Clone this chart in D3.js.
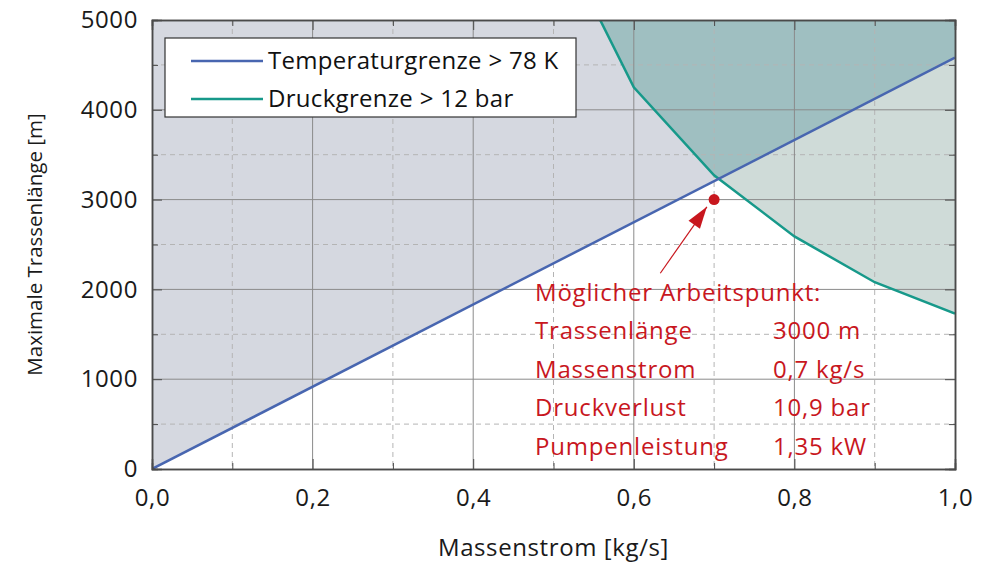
<!DOCTYPE html>
<html>
<head>
<meta charset="utf-8">
<script src="https://cdn.jsdelivr.net/npm/d3@7"></script>
<style>
  body { margin: 0; background: #fff; }
  text { font-family: "Open Sans", Lato, sans-serif; }
</style>
</head>
<body>
<div id="chart"></div>
<script>
// Temperaturgrenze (linear)
const tempX = [0, 1.0];
const tempY = [0, 4580];
// Druckgrenze
const druckX = [0.5, 0.6, 0.7, 0.8, 0.9, 1.0];
const druckY = [6040, 4250, 3270, 2590, 2080, 1730];
// Arbeitspunkt
const pointX = 0.7;
const pointY = 3000;
const xTicks = [0, 0.2, 0.4, 0.6, 0.8, 1.0];
const yTicks = [0, 1000, 2000, 3000, 4000, 5000];
const legendLabels = ["Temperaturgrenze > 78 K", "Druckgrenze > 12 bar"];
const infoLabels = ["Trassenlänge", "Massenstrom", "Druckverlust", "Pumpenleistung"];
const infoValues = ["3000 m", "0,7 kg/s", "10,9 bar", "1,35 kW"];

const width = 987, height = 562;
const margin = {left: 152, right: 32, top: 20, bottom: 93};
const innerW = width - margin.left - margin.right;
const innerH = height - margin.top - margin.bottom;

const blue = "#4866b0";
const teal = "#17998a";
const red = "#c8171e";
const fs = 24, ls = "0.6px"; // horizontal text size / spacing

const svg = d3.select("#chart").append("svg")
    .attr("width", width)
    .attr("height", height);

const x = d3.scaleLinear().domain([0, 1]).range([0, innerW]);
const y = d3.scaleLinear().domain([0, 5000]).range([innerH, 0]);

const defs = svg.append("defs");
defs.append("clipPath").attr("id", "plotclip")
    .append("rect").attr("width", innerW).attr("height", innerH);

const g = svg.append("g")
    .attr("transform", `translate(${margin.left},${margin.top})`);

const tempPts = tempX.map((d, i) => [d, tempY[i]]);
const druckPts = druckX.map((d, i) => [d, druckY[i]]);

// areas above the limit lines
const tempArea = tempPts.concat([[1, 5000], [0, 5000]]);
const druckArea = druckPts.concat([[1, 6100], [0.5, 6100]]);
const poly = d3.line().x(d => x(d[0])).y(d => y(d[1]));

defs.append("clipPath").attr("id", "tempclip")
    .append("path").attr("d", poly(tempArea) + "Z");

const areas = g.append("g").attr("clip-path", "url(#plotclip)");
areas.append("path").attr("d", poly(tempArea) + "Z").attr("fill", "#d5d8e0");
areas.append("path").attr("d", poly(druckArea) + "Z").attr("fill", "#cfdbd8");
areas.append("g").attr("clip-path", "url(#tempclip)")
    .append("path").attr("d", poly(druckArea) + "Z").attr("fill", "#9fbfc1");

// grid
const minorX = d3.range(0.1, 1, 0.2);
const minorY = d3.range(500, 5000, 1000);
g.selectAll(".gx").data(minorX).enter().append("line")
    .attr("x1", d => x(d)).attr("x2", d => x(d)).attr("y1", 0).attr("y2", innerH)
    .attr("stroke", "#b4b4b4").attr("stroke-dasharray", "5,4");
g.selectAll(".gy").data(minorY).enter().append("line")
    .attr("y1", d => y(d)).attr("y2", d => y(d)).attr("x1", 0).attr("x2", innerW)
    .attr("stroke", "#b4b4b4").attr("stroke-dasharray", "5,4");
g.selectAll(".gX").data(xTicks.slice(1, -1)).enter().append("line")
    .attr("x1", d => x(d)).attr("x2", d => x(d)).attr("y1", 0).attr("y2", innerH)
    .attr("stroke", "#8a8a8a");
g.selectAll(".gY").data(yTicks.slice(1, -1)).enter().append("line")
    .attr("y1", d => y(d)).attr("y2", d => y(d)).attr("x1", 0).attr("x2", innerW)
    .attr("stroke", "#8a8a8a");

// lines
const lines = g.append("g").attr("clip-path", "url(#plotclip)");
lines.append("path").attr("d", poly(druckPts)).attr("fill", "none")
    .attr("stroke", teal).attr("stroke-width", 2.5);
lines.append("path").attr("d", poly(tempPts)).attr("fill", "none")
    .attr("stroke", blue).attr("stroke-width", 2.5);

// axes with inner ticks on all sides
const fmt = d3.format(".1f");
g.append("g").attr("transform", `translate(0,${innerH})`)
    .call(d3.axisBottom(x).tickValues(xTicks).tickSize(-10).tickPadding(20)
        .tickFormat(d => fmt(d).replace(".", ",")));
g.append("g")
    .call(d3.axisLeft(y).tickValues(yTicks).tickSize(-10).tickPadding(14)
        .tickFormat(d3.format("d")));
g.append("g").call(d3.axisTop(x).tickValues(xTicks).tickSize(-10).tickFormat(""));
g.append("g").attr("transform", `translate(${innerW},0)`)
    .call(d3.axisRight(y).tickValues(yTicks).tickSize(-10).tickFormat(""));
g.append("g").attr("transform", `translate(0,${innerH})`)
    .call(d3.axisBottom(x).tickValues(minorX).tickSize(-6).tickFormat(""));
g.append("g").call(d3.axisTop(x).tickValues(minorX).tickSize(-6).tickFormat(""));
g.append("g").call(d3.axisLeft(y).tickValues(minorY).tickSize(-6).tickFormat(""));
g.append("g").attr("transform", `translate(${innerW},0)`)
    .call(d3.axisRight(y).tickValues(minorY).tickSize(-6).tickFormat(""));
g.selectAll(".domain").attr("stroke", "#4a4a4a").attr("stroke-width", 1.5);
g.selectAll(".tick line").attr("stroke", "#4a4a4a");
g.selectAll(".tick text").attr("font-size", fs).attr("fill", "#1a1a1a")
    .attr("letter-spacing", ls)
    .style("font-family", "'Open Sans', sans-serif");

// axis titles
svg.append("text").attr("x", margin.left + innerW / 2).attr("y", 556)
    .attr("text-anchor", "middle").attr("font-size", fs).attr("letter-spacing", ls)
    .attr("fill", "#1a1a1a").text("Massenstrom [kg/s]");
svg.append("text").attr("transform", `translate(42,${margin.top + innerH / 2}) rotate(-90)`)
    .attr("text-anchor", "middle").attr("font-size", 20.5).attr("fill", "#1a1a1a")
    .text("Maximale Trassenlänge [m]");

// legend
const leg = g.append("g").attr("transform", "translate(13,18)");
leg.append("rect").attr("width", 411).attr("height", 79)
    .attr("fill", "#fff").attr("stroke", "#333").attr("stroke-width", 1.2);
const legColors = [blue, teal];
legendLabels.forEach((lab, i) => {
  const yy = 23 + i * 38;
  leg.append("line").attr("x1", 26).attr("x2", 98).attr("y1", yy).attr("y2", yy)
      .attr("stroke", legColors[i]).attr("stroke-width", 2.5);
  leg.append("text").attr("x", 103).attr("y", yy + 8).attr("font-size", fs)
      .attr("letter-spacing", "0.3px").attr("fill", "#111").text(lab);
});

// operating point with arrow
g.append("line")
    .attr("x1", x(0.633)).attr("y1", y(2180))
    .attr("x2", x(0.691)).attr("y2", y(2920))
    .attr("stroke", red).attr("stroke-width", 1.2);
g.append("path")
    .attr("transform", `translate(${x(0.691)},${y(2920)}) rotate(${Math.atan2(y(2920) - y(2180), x(0.691) - x(0.633)) * 180 / Math.PI})`)
    .attr("d", "M0,0 L-22,-7 L-22,7 Z").attr("fill", red);
g.append("circle").attr("cx", x(pointX)).attr("cy", y(pointY)).attr("r", 5.5).attr("fill", red);

// annotation text
const ann = g.append("g").attr("fill", red).attr("font-size", fs).attr("letter-spacing", "0.8px");
ann.append("text").attr("x", 383).attr("y", 281).text("Möglicher Arbeitspunkt:");
infoLabels.forEach((lab, i) => {
  const yy = 319 + i * 38.5;
  ann.append("text").attr("x", 383).attr("y", yy).text(lab);
  ann.append("text").attr("x", 621).attr("y", yy).text(infoValues[i]);
});
</script>
</body>
</html>
